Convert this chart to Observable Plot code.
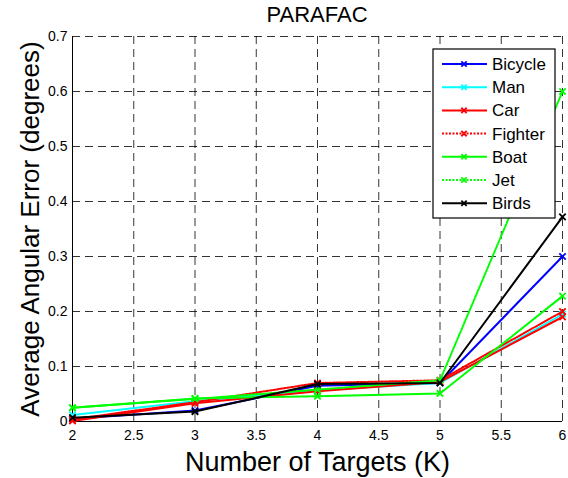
<!DOCTYPE html>
<html>
<head>
<meta charset="utf-8">
<script src="https://cdn.jsdelivr.net/npm/d3@7"></script>
<script src="https://cdn.jsdelivr.net/npm/@observablehq/plot@0.6"></script>
<style>
  body { margin: 0; background: #fff; font-family: "Liberation Sans", Arial, sans-serif; }
  #title { width: 568px; box-sizing: border-box; padding-left: 72px; padding-right: 6px; padding-top: 3px; height: 26px; line-height: 24px; text-align: center; font-size: 22px; color: #000; }
</style>
</head>
<body>
<div id="title">PARAFAC</div>
<div id="chart"></div>
<script>
const targets = [2, 3, 4, 5, 6];
const seriesNames = ["Bicycle", "Man", "Car", "Fighter", "Boat", "Jet", "Birds"];
const bicycle = [0.005, 0.02, 0.065, 0.07, 0.30];
const man     = [0.012, 0.037, 0.057, 0.07, 0.195];
const car     = [0.001, 0.033, 0.055, 0.072, 0.19];
const fighter = [0.004, 0.035, 0.07, 0.075, 0.20];
const boat    = [0.025, 0.042, 0.046, 0.051, 0.228];
const jet     = [0.025, 0.041, 0.058, 0.075, 0.60];
const birds   = [0.007, 0.018, 0.068, 0.07, 0.372];
const xTicks = [2, 2.5, 3, 3.5, 4, 4.5, 5, 5.5, 6];
const yTicks = [0, 0.1, 0.2, 0.3, 0.4, 0.5, 0.6, 0.7];

const colors = {Bicycle: "#0000ff", Man: "#00ffff", Car: "#ff0000", Fighter: "#ff0000", Boat: "#00ff00", Jet: "#00ff00", Birds: "#000000"};
const dashes = {Bicycle: null, Man: null, Car: null, Fighter: "2,1.5", Boat: null, Jet: "2,1.5", Birds: null};
const values = {Bicycle: bicycle, Man: man, Car: car, Fighter: fighter, Boat: boat, Jet: jet, Birds: birds};

const marks = [
  Plot.gridX(xTicks, {stroke: "#000", strokeOpacity: 1, strokeDasharray: "8,5", strokeWidth: 0.8}),
  Plot.gridY(yTicks, {stroke: "#000", strokeOpacity: 1, strokeDasharray: "8,5", strokeWidth: 0.8}),
  Plot.ruleX([2], {stroke: "#000", strokeWidth: 1}),
  Plot.ruleY([0], {stroke: "#000", strokeWidth: 1}),
  Plot.axisX(xTicks, {tickSize: 0, tickPadding: 9, fontSize: 14, label: null, tickFormat: d => String(d)}),
  Plot.axisY(yTicks, {tickSize: 0, tickPadding: 5, fontSize: 14, label: null, tickFormat: d => String(d)}),
  Plot.text(["Number of Targets (K)"], {frameAnchor: "bottom", dy: 41, fontSize: 27, lineAnchor: "middle", fill: "#000"}),
  Plot.text(["Average Angular Error (degrees)"], {frameAnchor: "left", dx: -42, rotate: -90, fontSize: 26, lineAnchor: "middle", textAnchor: "middle", fill: "#000"})
];
for (const name of seriesNames) {
  const rows = targets.map((t, i) => ({t, v: values[name][i]}));
  marks.push(Plot.line(rows, {x: "t", y: "v", stroke: colors[name], strokeWidth: 2, strokeDasharray: dashes[name]}));
  marks.push(Plot.dot(rows, {x: "t", y: "v", stroke: colors[name], symbol: "times", r: 3, strokeWidth: 1.8}));
}

const plot = Plot.plot({
  width: 568,
  height: 452,
  marginTop: 10,
  marginBottom: 57,
  marginLeft: 72,
  marginRight: 6,
  style: {fontFamily: "'Liberation Sans', Arial, sans-serif", fontSize: "14px", color: "#000", background: "#fff"},
  x: {domain: [2, 6], ticks: xTicks},
  y: {domain: [0, 0.7], ticks: yTicks},
  marks
});
document.getElementById("chart").appendChild(plot);

// Legend overlay (inside plot area, top-right)
const svg = d3.select(plot);
const lg = svg.append("g").attr("transform", "translate(433,23)");
lg.append("rect").attr("width", 122).attr("height", 169).attr("fill", "#fff").attr("stroke", "#000").attr("stroke-width", 1.2);
seriesNames.forEach((name, i) => {
  const y = 15 + i * 23.2;
  lg.append("line").attr("x1", 9).attr("x2", 54).attr("y1", y).attr("y2", y)
    .attr("stroke", colors[name]).attr("stroke-width", 2).attr("stroke-dasharray", dashes[name]);
  lg.append("path").attr("d", d3.symbol(d3.symbolTimes, 20)()).attr("transform", `translate(31,${y})`)
    .attr("stroke", colors[name]).attr("stroke-width", 1.8).attr("fill", "none");
  lg.append("text").attr("x", 59).attr("y", y).attr("dy", "0.35em").attr("text-anchor", "start")
    .attr("font-size", 17).attr("fill", "#000").text(name);
});
</script>
</body>
</html>
